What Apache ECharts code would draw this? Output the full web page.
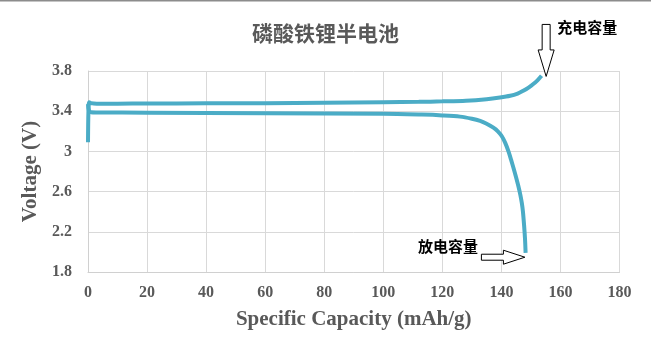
<!DOCTYPE html>
<html>
<head>
<meta charset="utf-8">
<script src="https://cdn.jsdelivr.net/npm/echarts@6/dist/echarts.min.js"></script>
<style>
  html, body {margin: 0; padding: 0; background: #fff;}
  #main {width: 651px; height: 351px;}
</style>
</head>
<body>
<div id="main"></div>
<script>
  // 充电曲线
  var chargeCap = [0, 0.15, 0.4, 1, 3, 10, 20, 40, 60, 80, 100, 112, 120, 128, 135, 139.5, 143, 145.5, 147.4, 149.2, 150.8, 152.3, 153.6];
  var chargeVolt = [3.09, 3.40, 3.49, 3.48, 3.475, 3.475, 3.476, 3.478, 3.48, 3.485, 3.49, 3.493, 3.498, 3.505, 3.52, 3.536, 3.553, 3.575, 3.603, 3.635, 3.67, 3.71, 3.753];
  // 放电曲线
  var dischargeCap = [0, 0.3, 1, 3, 20, 60, 100, 113, 120, 126, 130, 132.8, 135, 137.3, 138.8, 140.1, 141.3, 142.4, 143.3, 144.1, 144.9, 145.7, 146.4, 146.9, 147.3, 147.7, 148, 148.2];
  var dischargeVolt = [3.47, 3.41, 3.39, 3.388, 3.385, 3.38, 3.375, 3.366, 3.358, 3.346, 3.325, 3.303, 3.275, 3.236, 3.20, 3.153, 3.085, 3.00, 2.915, 2.835, 2.75, 2.66, 2.57, 2.49, 2.40, 2.26, 2.13, 1.99];
  var yTicks = [1.8, 2.2, 2.6, 3, 3.4, 3.8];

  var serif = '"Liberation Serif", "Times New Roman", serif';
  var cjk = '"Noto Sans CJK SC", sans-serif';

  function pairs(xs, ys) {
    return xs.map(function (x, i) { return [x, ys[i]]; });
  }

  var chart = echarts.init(document.getElementById('main'));
  chart.setOption({
    animation: false,
    title: {
      text: '磷酸铁锂半电池', left: 'center', top: 18,
      textStyle: {fontFamily: cjk, fontSize: 21, fontWeight: 'bold', color: '#595959'}
    },
    grid: {left: 88, right: 31.5, top: 71, bottom: 79},
    xAxis: {
      type: 'value', min: 0, max: 180, interval: 20,
      name: 'Specific Capacity (mAh/g)', nameLocation: 'middle', nameGap: 37,
      nameTextStyle: {fontFamily: serif, fontSize: 21, fontWeight: 'bold', color: '#595959'},
      axisLine: {show: true, lineStyle: {color: '#d0d0d0'}},
      axisTick: {show: false},
      axisLabel: {fontFamily: serif, fontSize: 16, fontWeight: 'bold', color: '#595959', margin: 13},
      splitLine: {lineStyle: {color: '#d9d9d9'}}
    },
    yAxis: {
      type: 'value', min: 1.8, max: 3.8,
      name: 'Voltage (V)', nameLocation: 'middle', nameGap: 44,
      nameTextStyle: {fontFamily: serif, fontSize: 21, fontWeight: 'bold', color: '#595959'},
      axisLine: {show: true, lineStyle: {color: '#d0d0d0'}},
      axisTick: {show: false, customValues: yTicks},
      axisLabel: {customValues: yTicks, fontFamily: serif, fontSize: 16, fontWeight: 'bold', color: '#595959', margin: 16},
      splitLine: {lineStyle: {color: '#d9d9d9'}}
    },
    series: [
      {
        type: 'line', name: '充电', data: pairs(chargeCap, chargeVolt),
        showSymbol: false, smooth: 0.3,
        lineStyle: {color: '#4bacc6', width: 4}
      },
      {
        type: 'line', name: '放电', data: pairs(dischargeCap, dischargeVolt),
        showSymbol: false, smooth: 0.3,
        lineStyle: {color: '#4bacc6', width: 4}
      }
    ]
  });

  // 箭头标注, 以曲线末端为锚点
  var cEnd = chart.convertToPixel({gridIndex: 0}, [chargeCap[chargeCap.length - 1], chargeVolt[chargeVolt.length - 1]]);
  var dEnd = chart.convertToPixel({gridIndex: 0}, [dischargeCap[dischargeCap.length - 1], dischargeVolt[dischargeVolt.length - 1]]);
  var t1 = [cEnd[0] + 4.6, cEnd[1] + 0.7];
  var t2 = [dEnd[0] - 0.7, dEnd[1] + 4.3];
  var arrowStyle = {fill: '#fff', stroke: '#000', lineWidth: 1};
  chart.setOption({
    graphic: [
      {type: 'rect', shape: {x: 0, y: 0, width: 651, height: 1.5}, style: {fill: '#8c8c8c'}},
      {
        type: 'polygon', x: t1[0], y: t1[1], style: arrowStyle,
        shape: {points: [[-4, -52], [4, -52], [4, -26.5], [8, -26.5], [0, 0], [-8, -26.5], [-4, -26.5]]}
      },
      {
        type: 'text', x: t1[0] + 11, y: t1[1] - 57,
        style: {text: '充电容量', font: 'bold 15px ' + cjk, fill: '#000'}
      },
      {
        type: 'polygon', x: t2[0], y: t2[1], style: arrowStyle,
        shape: {points: [[-43.5, -3], [-21.5, -3], [-21.5, -7], [0, 0], [-21.5, 7], [-21.5, 3], [-43.5, 3]]}
      },
      {
        type: 'text', x: t2[0] - 107, y: t2[1] - 18,
        style: {text: '放电容量', font: 'bold 15px ' + cjk, fill: '#000'}
      }
    ]
  });
</script>
</body>
</html>
